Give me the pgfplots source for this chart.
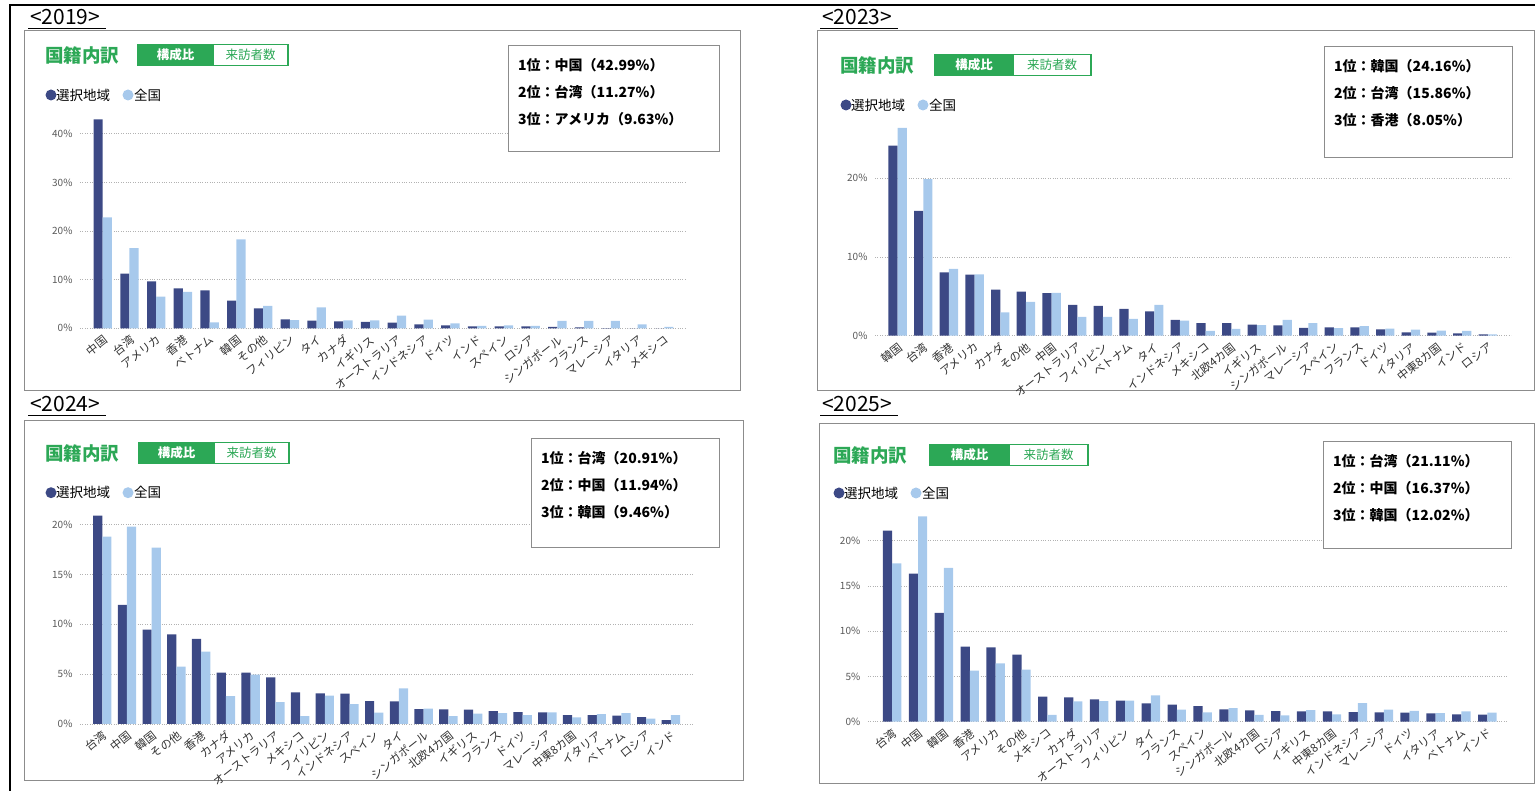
\documentclass[border=0pt]{standalone}
\usepackage{fontspec}
\setmainfont{Noto Sans CJK JP}
\usepackage{pgfplots}
\usepackage{pgfplotstable}
\pgfplotsset{compat=1.18}

\definecolor{sel}{RGB}{60,73,133}
\definecolor{zen}{RGB}{167,201,236}
\definecolor{jgreen}{RGB}{44,168,86}
\definecolor{frm}{RGB}{140,140,140}

\newcommand\fs[1]{\fontsize{#1}{#1}\selectfont}

% title, toggle and legend of one panel
\newcommand\panelhead[6]{%
  \node[anchor=west,inner sep=0,text=jgreen,font=\bfseries\fs{18.5}] at (#1,#2) {国籍内訳};
  \draw[jgreen,line width=1.2pt,fill=white] (#3+#4,#2-10.5) rectangle (#3+2*#4,#2+10.5);
  \draw[jgreen,line width=1.2pt,fill=jgreen] (#3,#2-10.5) rectangle (#3+#4,#2+10.5);
  \node[text=white,font=\bfseries\fs{12.5}] at (#3+0.5*#4,#2) {構成比};
  \node[text=jgreen,font=\fs{12.5}] at (#3+1.5*#4,#2) {来訪者数};
  \fill[sel] (#5,#6) circle (5.5);
  \node[anchor=west,inner sep=0,font=\fs{13.5}] at (#5+5,#6) {選択地域};
  \fill[zen] (#5+77,#6) circle (5.5);
  \node[anchor=west,inner sep=0,font=\fs{13.5}] at (#5+83,#6) {全国};
}
% ranking box
\newcommand\topbox[7]{%
  \draw[frm,line width=0.6pt,fill=white] (#1,#2) rectangle (#3,#4);
  \node[anchor=west,inner sep=0,font=\bfseries\fs{14}] at (#1+10,#2-20) {#5};
  \node[anchor=west,inner sep=0,font=\bfseries\fs{14}] at (#1+10,#2-47) {#6};
  \node[anchor=west,inner sep=0,font=\bfseries\fs{14}] at (#1+10,#2-74) {#7};
}
\newcommand\yearlabel[3]{%
  \node[anchor=base west,inner sep=0,font=\fs{21}] at (#1,#2) {#3};
  \draw[line width=0.9pt] (#1-2,#2-3) -- (#1+76,#2-3);
}

\pgfplotsset{panel/.style={
  scale only axis, anchor=south west, ybar=0pt, bar width=9.2pt,
  axis line style={draw=none}, tick style={draw=none}, ymin=0,
  ymajorgrids, grid style={black!30, dotted, line width=0.8pt},
  yticklabel style={font=\fs{10}, text=black!65, xshift=-4pt},
  xticklabel style={rotate=38, anchor=north east, inner sep=1pt, font=\fs{11.5}, text=black!80},
  every axis plot/.append style={draw=none},
}}

\pgfplotstableread{
x sel all
0 42.99 22.8
1 11.27 16.5
2 9.63 6.5
3 8.2 7.5
4 7.8 1.2
5 5.7 18.3
6 4.1 4.6
7 1.85 1.7
8 1.6 4.3
9 1.4 1.65
10 1.3 1.65
11 1.15 2.6
12 0.8 1.8
13 0.6 1.0
14 0.4 0.5
15 0.4 0.6
16 0.4 0.5
17 0.3 1.5
18 0.2 1.55
19 0.05 1.5
20 0.0 0.8
21 0.0 0.3
}\dA

\pgfplotstableread{
x sel all
0 24.16 26.4
1 15.86 19.9
2 8.05 8.5
3 7.75 7.8
4 5.85 2.97
5 5.6 4.3
6 5.4 5.45
7 3.9 2.4
8 3.8 2.4
9 3.4 2.15
10 3.1 3.9
11 2.0 1.9
12 1.6 0.6
13 1.6 0.85
14 1.4 1.35
15 1.3 2.0
16 1.0 1.6
17 1.05 0.97
18 1.05 1.2
19 0.8 0.9
20 0.42 0.76
21 0.38 0.64
22 0.3 0.6
23 0.17 0.17
}\dB

\pgfplotstableread{
x sel all
0 20.91 18.8
1 11.94 19.8
2 9.46 17.7
3 9.0 5.75
4 8.53 7.26
5 5.15 2.8
6 5.15 4.95
7 4.68 2.2
8 3.18 0.8
9 3.08 2.84
10 3.04 2.0
11 2.3 1.14
12 2.27 3.58
13 1.5 1.54
14 1.47 0.8
15 1.44 1.04
16 1.3 1.1
17 1.2 0.9
18 1.17 1.17
19 0.9 0.67
20 0.9 1.0
21 0.84 1.1
22 0.7 0.54
23 0.4 0.9
}\dC

\pgfplotstableread{
x sel all
0 21.11 17.5
1 16.37 22.7
2 12.02 17.0
3 8.29 5.64
4 8.2 6.45
5 7.4 5.75
6 2.76 0.74
7 2.69 2.25
8 2.47 2.28
9 2.32 2.32
10 2.03 2.9
11 1.88 1.33
12 1.73 1.03
13 1.36 1.5
14 1.25 0.74
15 1.18 0.7
16 1.14 1.29
17 1.14 0.8
18 1.07 2.06
19 1.03 1.33
20 1.0 1.2
21 0.92 0.96
22 0.8 1.14
23 0.77 1.0
}\dD

\begin{document}
\begin{tikzpicture}[x=1pt,y=1pt]
\path[use as bounding box] (0,0) rectangle (1535,791);
\draw[line width=1.8pt] (1535,786) -- (10,786) -- (10,0);

% panel frames
\draw[frm,line width=0.8pt] (24,401) rectangle (740,761);
\draw[frm,line width=0.8pt] (817,401) rectangle (1534,761);
\draw[frm,line width=0.8pt] (24,11) rectangle (743,371);
\draw[frm,line width=0.8pt] (819,8) rectangle (1534,368);

\yearlabel{30}{766}{<2019>}
\yearlabel{822}{766}{<2023>}
\yearlabel{30}{379}{<2024>}
\yearlabel{822}{379}{<2025>}

% 2019
\begin{axis}[panel, at={(80pt,462.7pt)}, width=607pt, height=218.7pt,
  xmin=-0.85, xmax=21.85, ymax=45,
  ytick={0,10,20,30,40}, yticklabels={0\%,10\%,20\%,30\%,40\%},
  xtick={0,...,21},
  xticklabels={中国,台湾,アメリカ,香港,ベトナム,韓国,その他,フィリピン,タイ,カナダ,イギリス,オーストラリア,インドネシア,ドイツ,インド,スペイン,ロシア,シンガポール,フランス,マレーシア,イタリア,メキシコ}]
\addplot[fill=sel] table[x=x,y=sel] {\dA};
\addplot[fill=zen] table[x=x,y=all] {\dA};
\end{axis}
\panelhead{45}{736}{138}{75}{51}{696}
\topbox{508}{746}{719}{640}{1位：中国（42.99\%）}{2位：台湾（11.27\%）}{3位：アメリカ（9.63\%）}

% 2023
\begin{axis}[panel, at={(875pt,455.3pt)}, width=636pt, height=220.4pt,
  xmin=-0.88, xmax=23.9, ymax=28,
  ytick={0,10,20}, yticklabels={0\%,10\%,20\%},
  xtick={0,...,23},
  xticklabels={韓国,台湾,香港,アメリカ,カナダ,その他,中国,オーストラリア,フィリピン,ベトナム,タイ,インドネシア,メキシコ,北欧4カ国,イギリス,シンガポール,マレーシア,スペイン,フランス,ドイツ,イタリア,中東8カ国,インド,ロシア}]
\addplot[fill=sel] table[x=x,y=sel] {\dB};
\addplot[fill=zen] table[x=x,y=all] {\dB};
\end{axis}
\panelhead{840}{726}{935}{78}{846}{686}
\topbox{1324}{745}{1512}{634}{1位：韓国（24.16\%）}{2位：台湾（15.86\%）}{3位：香港（8.05\%）}

% 2024
\begin{axis}[panel, at={(80pt,67pt)}, width=612.7pt, height=219.3pt,
  xmin=-0.9, xmax=23.88, ymax=22,
  ytick={0,5,10,15,20}, yticklabels={0\%,5\%,10\%,15\%,20\%},
  xtick={0,...,23},
  xticklabels={台湾,中国,韓国,その他,香港,カナダ,アメリカ,オーストラリア,メキシコ,フィリピン,インドネシア,スペイン,タイ,シンガポール,北欧4カ国,イギリス,フランス,ドイツ,マレーシア,中東8カ国,イタリア,ベトナム,ロシア,インド}]
\addplot[fill=sel] table[x=x,y=sel] {\dC};
\addplot[fill=zen] table[x=x,y=all] {\dC};
\end{axis}
\panelhead{45}{338}{139}{75}{51}{298.3}
\topbox{531}{353}{719}{244}{1位：台湾（20.91\%）}{2位：中国（11.94\%）}{3位：韓国（9.46\%）}

% 2025
\begin{axis}[panel, at={(867.8pt,69.3pt)}, width=640.2pt, height=217.2pt,
  xmin=-0.94, xmax=23.8, ymax=24,
  ytick={0,5,10,15,20}, yticklabels={0\%,5\%,10\%,15\%,20\%},
  xtick={0,...,23},
  xticklabels={台湾,中国,韓国,香港,アメリカ,その他,メキシコ,カナダ,オーストラリア,フィリピン,タイ,フランス,スペイン,シンガポール,北欧4カ国,ロシア,イギリス,中東8カ国,インドネシア,マレーシア,ドイツ,イタリア,ベトナム,インド}]
\addplot[fill=sel] table[x=x,y=sel] {\dD};
\addplot[fill=zen] table[x=x,y=all] {\dD};
\end{axis}
\panelhead{833}{336}{930}{79}{839}{298}
\topbox{1323}{350}{1511}{243}{1位：台湾（21.11\%）}{2位：中国（16.37\%）}{3位：韓国（12.02\%）}
\end{tikzpicture}
\end{document}
